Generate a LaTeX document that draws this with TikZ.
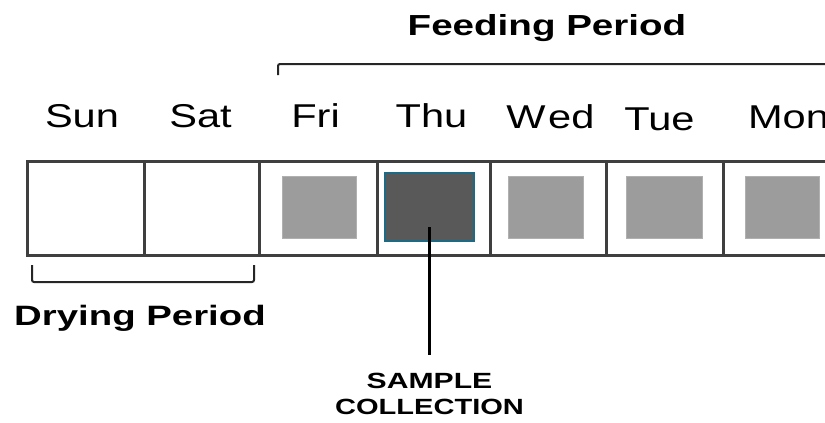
\documentclass[tikz,border=0pt]{standalone}
\usepackage{fontspec}
\usepackage{graphicx}
\setmainfont{Liberation Sans}
\definecolor{framegray}{HTML}{3F3F3F}
\definecolor{feedgray}{HTML}{9C9C9C}
\definecolor{samplegray}{HTML}{595959}
\definecolor{sampleedge}{HTML}{1D6A87}
% horizontally widened lettering
\newcommand\stretchtext[2]{\scalebox{#1}[1]{#2}}
\tikzset{
  cell/.style={draw=framegray, line width=3pt, fill=white, minimum height=94pt, inner sep=0pt},
  feedsq/.style={fill=feedgray, draw=feedgray!80!white, line width=0.6pt, minimum width=74pt, minimum height=62pt, inner sep=0pt},
  samplesq/.style={fill=samplegray, draw=sampleedge, line width=1.5pt, minimum width=89pt, minimum height=68pt, inner sep=0pt},
  day/.style={anchor=base, inner sep=0pt, font=\fontsize{33}{33}\selectfont},
  heading/.style={anchor=base, inner sep=0pt, font=\bfseries\fontsize{29}{29}\selectfont},
  bracket/.style={draw=black!85, line width=2pt, rounded corners=2pt},
  pointer/.style={draw=black, line width=3pt}
}
\begin{document}
\begin{tikzpicture}[x=1pt,y=-1pt]
\useasboundingbox (0,0) rectangle (825,423);
\clip (0,0) rectangle (825,423);

% week strip, read right to left
\node[cell, minimum width=117pt] (sun) at (85.5,208) {};
\node[cell, minimum width=115pt] (sat) at (201.5,208) {};
\node[cell, minimum width=118pt] (fri) at (318,208) {};
\node[cell, minimum width=113pt] (thu) at (433.5,208) {};
\node[cell, minimum width=116pt] (wed) at (548,208) {};
\node[cell, minimum width=117pt] (tue) at (664.5,208) {};
\node[cell, minimum width=118pt] (mon) at (782,208) {};

% feeding days
\node[feedsq] (frisq) at (319,207) {};
\node[samplesq] (thusq) at (429.5,207) {};
\node[feedsq, minimum width=75pt] (wedsq) at (545.5,207) {};
\node[feedsq, minimum width=76pt] (tuesq) at (664,207) {};
\node[feedsq] (monsq) at (782,207) {};

% day names
\node[day] (sunlbl) at (82,127) {\stretchtext{1.26}{Sun}};
\node[day] (satlbl) at (200.5,127) {\stretchtext{1.26}{Sat}};
\node[day] (frilbl) at (315.5,127) {\stretchtext{1.26}{Fri}};
\node[day] (thulbl) at (431.5,127) {\stretchtext{1.26}{Thu}};
\node[day] (wedlbl) at (550.5,128) {\stretchtext{1.26}{W\kern2pt ed}};
\node[day] (tuelbl) at (659.5,130) {\stretchtext{1.26}{Tue}};
\node[day] (monlbl) at (788.5,128) {\stretchtext{1.26}{Mon}};

% feeding period bracket
\node[heading] (feedlbl) at (547,35) {\stretchtext{1.33}{Feeding Period}};
\coordinate (feedstart) at (278,75);
\coordinate (feedend) at (845,64);
\draw[bracket] (feedstart) |- (feedend);

% drying period bracket
\coordinate (dryleft) at (32,265);
\coordinate (drymid) at (143,282);
\coordinate (dryright) at (254,265);
\draw[bracket] (dryleft) |- (drymid) -| (dryright);
\node[heading, font=\bfseries\fontsize{28}{28}\selectfont] (drylbl) at (140,325) {\stretchtext{1.37}{Drying Period}};

% sample collection marker
\node[anchor=north, inner sep=0pt, align=center, font=\bfseries\fontsize{22}{26}\selectfont] (sample) at (429.5,373)
  {\stretchtext{1.37}{SAMPLE}\\\stretchtext{1.32}{COLLECTION}};
\draw[pointer] ([yshift=-20pt]thusq.center) -- ([yshift=18pt]sample.north);
\end{tikzpicture}
\end{document}
